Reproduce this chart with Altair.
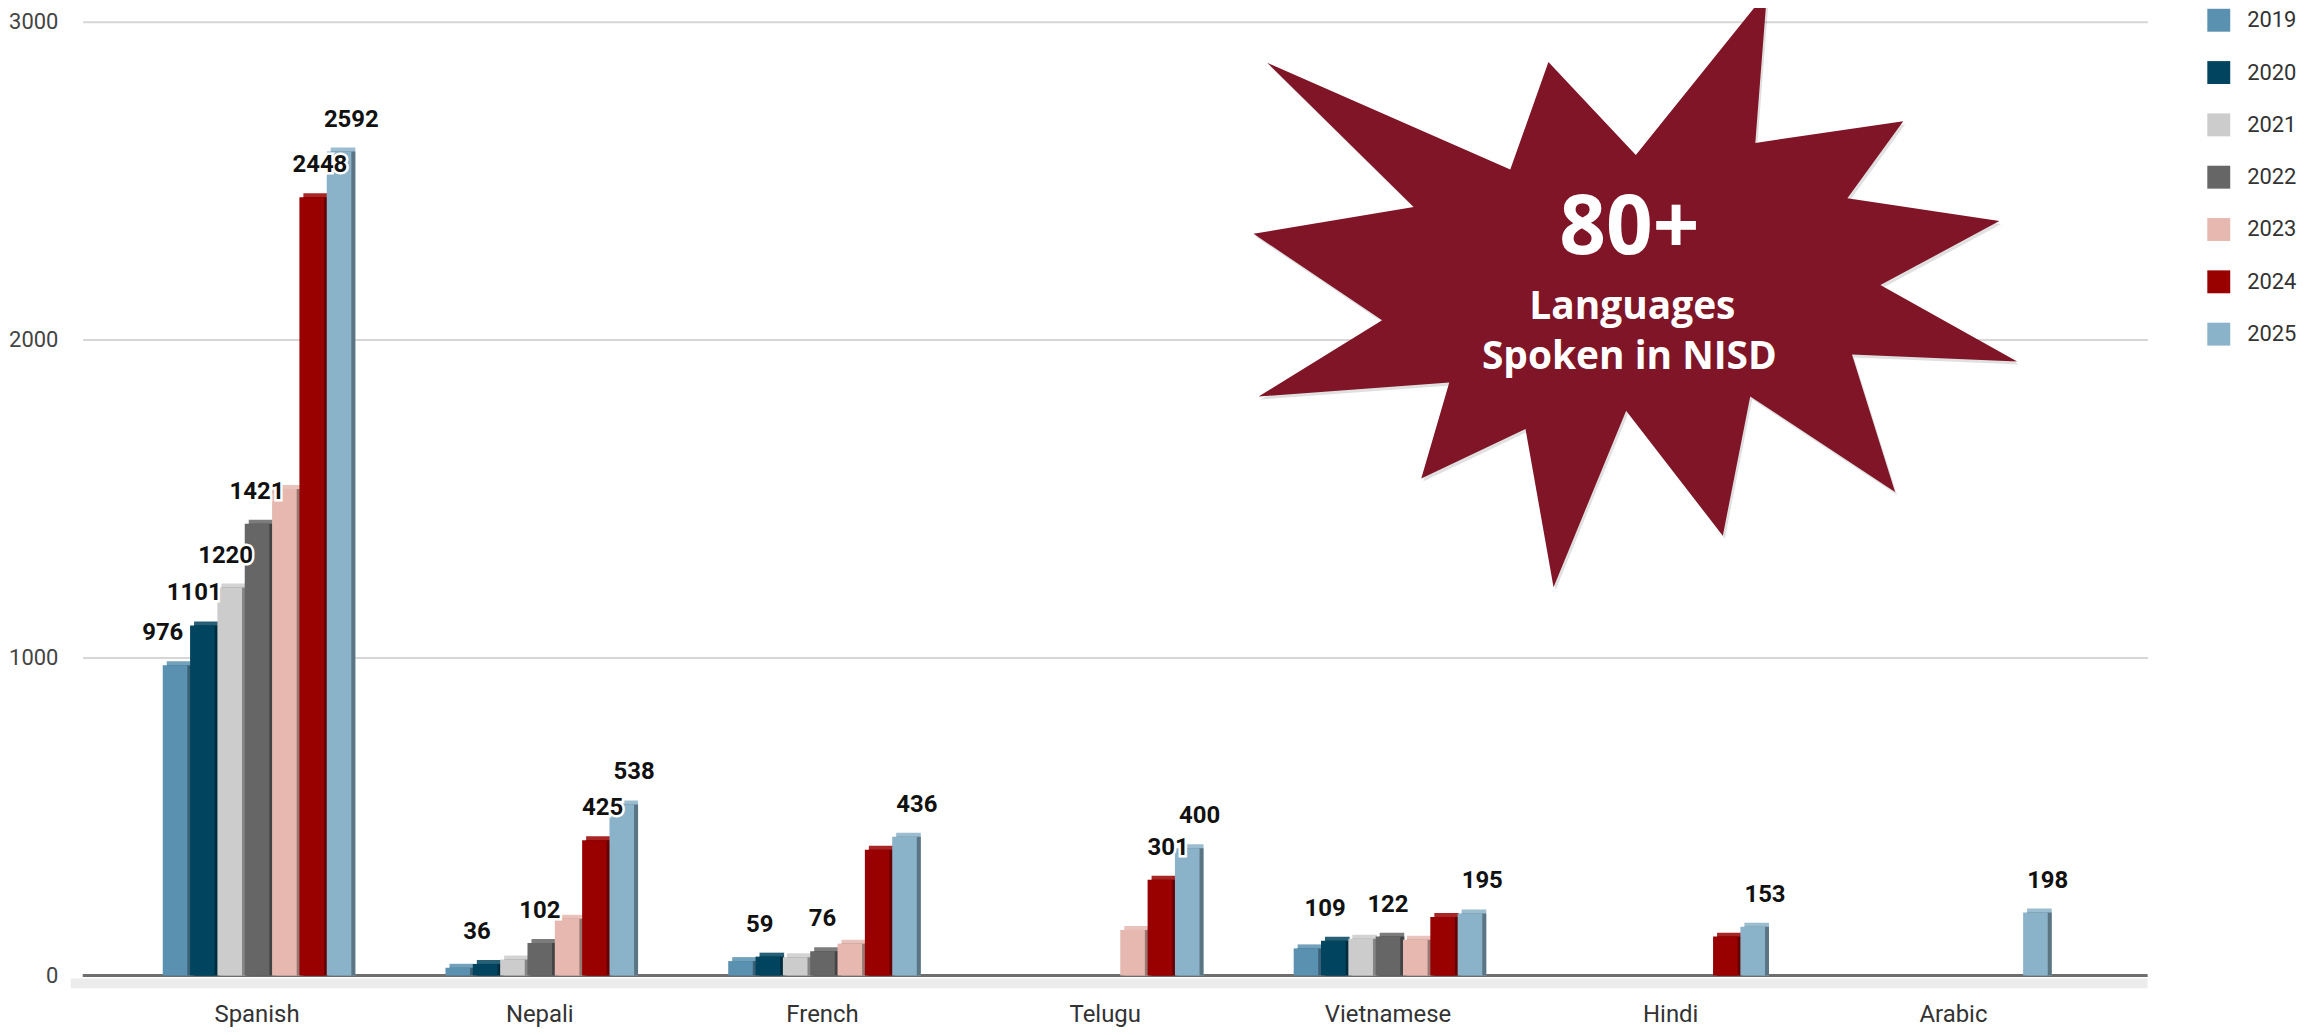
import altair as alt
import pandas as pd

# ---------------- data ----------------
languages = ["Spanish", "Nepali", "French", "Telugu", "Vietnamese", "Hindi", "Arabic"]
years = ["2019", "2020", "2021", "2022", "2023", "2024", "2025"]

v2019 = [976, 24, 45, None, 85, None, None]
v2020 = [1101, 36, 59, None, 109, None, None]
v2021 = [1220, 50, 57, None, 115, None, None]
v2022 = [1421, 102, 76, None, 122, None, None]
v2023 = [1530, 178, 100, 143, 112, None, None]
v2024 = [2448, 425, 395, 301, 184, 122, None]
v2025 = [2592, 538, 436, 400, 195, 153, 198]

l2019 = ["976", "", "", "", "", "", ""]
l2020 = ["1101", "36", "59", "", "109", "", ""]
l2021 = ["1220", "", "", "", "", "", ""]
l2022 = ["1421", "102", "76", "", "122", "", ""]
l2023 = ["", "", "", "", "", "", ""]
l2024 = ["2448", "425", "", "301", "", "", ""]
l2025 = ["2592", "538", "436", "400", "195", "153", "198"]

front_colors = ["#5a91b0", "#00445f", "#cccccc", "#666666", "#e6b8af", "#990000", "#8ab2c8"]

y_ticks = [0, 1000, 2000, 3000]

star_lines = ["80+", "Languages", "Spoken in NISD"]
# starburst outline (relative offsets, px, around its centre)
star_points = [(-369.4, -228.8), (-125.5, -121.6), (-87.2, -229.5), (0.5, -136.2),
               (132.2, -300), (120.4, -148.4), (268.9, -170.2), (212.8, -92.9),
               (365.3, -69.9), (245.9, -5.7), (383.2, 70.9), (217.4, 64.0),
               (260.7, 201.8), (115.3, 106.1), (87.8, 245.8), (-9.2, 120.3),
               (-82.1, 297.4), (-110.2, 138.6), (-214.8, 188.4), (-186.7, 91.9),
               (-378.0, 106.1), (-254.1, 29.6), (-383.1, -57.3), (-222.4, -84.1)]

# ---------------- helpers ----------------
def shade(hexc, f):
    h = hexc.lstrip("#")
    r, g, b = int(h[0:2], 16), int(h[2:4], 16), int(h[4:6], 16)
    if f < 1:
        r, g, b = int(r * f), int(g * f), int(b * f)
    else:
        t = f - 1
        r, g, b = int(r + (255 - r) * t), int(g + (255 - g) * t), int(b + (255 - b) * t)
    return "#%02x%02x%02x" % (r, g, b)

values = [v2019, v2020, v2021, v2022, v2023, v2024, v2025]
labels = [l2019, l2020, l2021, l2022, l2023, l2024, l2025]

rows = []
for j, yr in enumerate(years):
    for i, lang in enumerate(languages):
        v = values[j][i]
        if v is None:
            continue
        rows.append({
            "language": lang, "year": yr, "value": v, "label": labels[j][i],
            "side": shade(front_colors[j], 0.66),
            "top": shade(front_colors[j], 1.15),
        })
df = pd.DataFrame(rows)
lab_df = df[df["label"] != ""]

W, H = 2072, 957
DEPTH = 4
PI, PO = 0.333, 0.318
STEP = W / (len(languages) - PI + 2 * PO)
BW = STEP * (1 - PI)

x_scale = alt.Scale(domain=languages, paddingInner=PI, paddingOuter=PO, align=0.445)
x_enc = alt.X("language:N", sort=languages, title=None, scale=x_scale,
              axis=alt.Axis(labelFontSize=24, labelFont="Roboto", labelColor="#333333",
                            labelPadding=27, domain=False, ticks=False, labelAngle=0, grid=False))
xo = alt.XOffset("year:N", sort=years,
                 scale=alt.Scale(domain=years, paddingInner=0.1, paddingOuter=0, range=[0, BW]))
xo_shift = alt.XOffset("year:N", sort=years,
                       scale=alt.Scale(domain=years, paddingInner=0.1, paddingOuter=0,
                                       range=[DEPTH, BW + DEPTH]))
y_scale = alt.Scale(domain=[0, 3000], nice=False)
y_enc = alt.Y("value:Q", title=None, scale=y_scale,
              axis=alt.Axis(values=y_ticks, labelFontSize=22, labelFont="Roboto", labelColor="#444444",
                            labelPadding=25, domain=False, ticks=False, gridColor="#d6d6d6",
                            gridWidth=2, format="d"))

one = pd.DataFrame({"k": [0]})
zero_df = pd.DataFrame({"value": [0]})

floor = alt.Chart(one).mark_rect(color="#ececec").encode(
    x=alt.value(-12), x2=alt.value(W), y=alt.value(H + 3), y2=alt.value(H + 13))

zero = alt.Chart(zero_df).mark_rule(color="#6e6e6e", strokeWidth=3).encode(y=y_enc)

bars_top = alt.Chart(df).mark_bar(yOffset=-DEPTH).encode(
    x=x_enc, xOffset=xo_shift, y=y_enc, y2=alt.value(H + 10),
    color=alt.Color("top:N", scale=None))

bars_side = alt.Chart(df).mark_bar().encode(
    x=x_enc, xOffset=xo_shift, y=y_enc, y2=alt.value(H + 10),
    color=alt.Color("side:N", scale=None))

bars_front = alt.Chart(df).mark_bar().encode(
    x=x_enc, xOffset=xo, y=y_enc, y2=alt.value(H + 10),
    color=alt.Color("year:N", sort=years,
                    scale=alt.Scale(domain=years, range=front_colors),
                    legend=alt.Legend(title=None, orient="none", legendX=2132, legendY=-13,
                                      symbolType="square", symbolSize=529, symbolStrokeWidth=0,
                                      symbolOpacity=1,
                                      labelFontSize=22, labelFont="Roboto", labelColor="#333333",
                                      rowPadding=29.5, labelOffset=17, padding=0)))

halo = alt.Chart(lab_df).mark_text(font="Roboto", fontSize=24, fontWeight="bold", baseline="alphabetic",
                                   dy=-25, stroke="white", strokeWidth=5, color="white").encode(
    x=x_enc, xOffset=xo, y=y_enc, text="label:N")
text = alt.Chart(lab_df).mark_text(font="Roboto", fontSize=24, fontWeight="bold", baseline="alphabetic",
                                   dy=-25, color="#111111").encode(
    x=x_enc, xOffset=xo, y=y_enc, text="label:N")

R = 400.0
path = "M " + " L ".join("%.4f %.4f" % (px / R, py / R) for px, py in star_points) + " Z"
SCX, SCY = 1558, 270
star_shadow = alt.Chart(one).mark_point(shape=path, size=(2 * R) ** 2, filled=True, color="#000000",
                                        opacity=0.12, strokeWidth=0).encode(
    x=alt.value(SCX + 2), y=alt.value(SCY + 3))
star = alt.Chart(one).mark_point(shape=path, size=(2 * R) ** 2, filled=True, color="#7f1527",
                                 opacity=1, strokeWidth=0).encode(
    x=alt.value(SCX), y=alt.value(SCY))

st_df = pd.DataFrame({"t": star_lines})
t1 = alt.Chart(st_df.iloc[[0]]).mark_text(font="Open Sans", fontSize=82, fontWeight="bold",
                                          color="white", baseline="middle").encode(
    x=alt.value(1552), y=alt.value(208), text="t:N")
t2 = alt.Chart(st_df.iloc[[1]]).mark_text(font="Open Sans", fontSize=39, fontWeight="bold",
                                          color="white", baseline="middle").encode(
    x=alt.value(1555), y=alt.value(286), text="t:N")
t3 = alt.Chart(st_df.iloc[[2]]).mark_text(font="Open Sans", fontSize=39, fontWeight="bold",
                                          color="white", baseline="middle").encode(
    x=alt.value(1552), y=alt.value(336), text="t:N")

chart = alt.layer(floor, zero, bars_top, bars_side, bars_front, halo, text,
                  star_shadow, star, t1, t2, t3).resolve_scale(
    xOffset="independent"
).properties(
    width=W, height=H,
    padding={"left": 75, "top": 12, "right": 151, "bottom": 50},
    autosize=alt.AutoSizeParams(type="none"),
    background="white",
).configure_view(stroke=None)

chart.save("out.html", embed_options={"renderer": "svg", "actions": False})
